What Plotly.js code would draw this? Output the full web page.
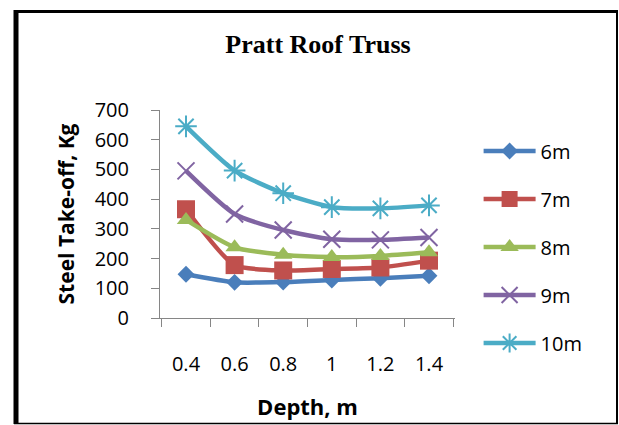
<!DOCTYPE html>
<html>
<head>
<meta charset="utf-8">
<script src="https://cdn.plot.ly/plotly-3.0.1.min.js"></script>
<style>
  html, body { margin: 0; padding: 0; background: #ffffff; }
  #chart { width: 619px; height: 425px; }
</style>
</head>
<body>
<div id="chart"></div>
<script>
// Truss depth (m) on the category axis
const depths = ["0.4", "0.6", "0.8", "1", "1.2", "1.4"];

// Steel take-off (kg) for each span
const span6m  = [147, 120, 121, 128, 134, 142];
const span7m  = [366, 178, 160, 165, 170, 193];
const span8m  = [330, 238, 213, 205, 209, 221];
const span9m  = [495, 350, 296, 265, 263, 271];
const span10m = [645, 496, 420, 373, 369, 379];

const seriesNames = ["6m", "7m", "8m", "9m", "10m"];
const seriesValues = [span6m, span7m, span8m, span9m, span10m];

const colors  = ["#4A7EBB", "#C0504D", "#9BBB59", "#8064A2", "#4BACC6"];
const symbols = ["diamond", "square", "triangle-up", "x-thin", "asterisk"];
const sizes   = [13, 18, 16, 17, 18];

const traces = seriesNames.map((name, i) => {
  const thin = symbols[i] === "x-thin" || symbols[i] === "asterisk";
  return {
    type: "scatter",
    mode: "lines+markers",
    name: name,
    legendgroup: name,
    x: depths,
    y: seriesValues[i],
    line: { color: colors[i], width: 4.5, shape: "spline", smoothing: 0.6 },
    marker: {
      symbol: symbols[i],
      size: sizes[i],
      color: colors[i],
      line: { color: colors[i], width: thin ? 2 : 0 }
    }
  };
});

// Frame around the whole chart, in paper units of the plot area
const L = 160, R = 164, T = 110, B = 107, W = 619, H = 425;
const pw = W - L - R, ph = H - T - B;
const px = v => (v - L) / pw;
const py = v => (H - B - v) / ph;

const frame = [
  { type: "line", xref: "paper", yref: "paper", x0: px(16), x1: px(16), y0: py(10), y1: py(424), line: { color: "#000", width: 5 } },
  { type: "line", xref: "paper", yref: "paper", x0: px(14), x1: px(618), y0: py(11.5), y1: py(11.5), line: { color: "#000", width: 3 } },
  { type: "line", xref: "paper", yref: "paper", x0: px(617), x1: px(617), y0: py(10), y1: py(424), line: { color: "#000", width: 2 } },
  { type: "line", xref: "paper", yref: "paper", x0: px(14), x1: px(618), y0: py(423.5), y1: py(423.5), line: { color: "#000", width: 1.5 } }
];

const axisFont = { family: "Open Sans, Lato, sans-serif", size: 20, color: "#000" };
const axisTitleFont = { family: "Open Sans, Lato, sans-serif", size: 21, color: "#000" };

const layout = {
  width: W,
  height: H,
  margin: { l: L, r: R, t: T, b: B, pad: 0 },
  paper_bgcolor: "#ffffff",
  plot_bgcolor: "#ffffff",
  title: {
    text: "<b>Pratt Roof Truss</b>",
    font: { family: "Liberation Serif, serif", size: 26, color: "#000" },
    x: 318 / W,
    xanchor: "center",
    xref: "container",
    y: 1 - 44 / H,
    yanchor: "middle",
    yref: "container"
  },
  xaxis: {
    type: "category",
    tickson: "boundaries",
    ticks: "outside",
    ticklen: 8,
    tickcolor: "#868686",
    showline: true,
    linecolor: "#868686",
    linewidth: 1,
    showgrid: false,
    zeroline: false,
    tickfont: axisFont,
    ticklabelstandoff: 28,
    title: {
      text: "<b>Depth, m</b>",
      font: { family: "Open Sans, Lato, sans-serif", size: 22, color: "#000" },
      standoff: 23
    }
  },
  yaxis: {
    range: [0, 700],
    dtick: 100,
    ticks: "outside",
    ticklen: 8,
    tickcolor: "#868686",
    showline: true,
    linecolor: "#868686",
    linewidth: 1,
    showgrid: false,
    zeroline: false,
    tickfont: axisFont,
    ticklabelstandoff: 18,
    title: {
      text: "<b>Steel Take-off, Kg</b>",
      font: axisTitleFont,
      standoff: 14
    }
  },
  legend: {
    x: 1.08,
    xanchor: "left",
    y: py(247),
    yanchor: "middle",
    traceorder: "grouped",
    tracegroupgap: 19,
    font: axisFont,
    bgcolor: "rgba(0,0,0,0)",
    itemwidth: 52,
    maxheight: 400
  },
  shapes: frame,
  showlegend: true
};

Plotly.newPlot("chart", traces, layout, { displayModeBar: false, staticPlot: true });
</script>
</body>
</html>
